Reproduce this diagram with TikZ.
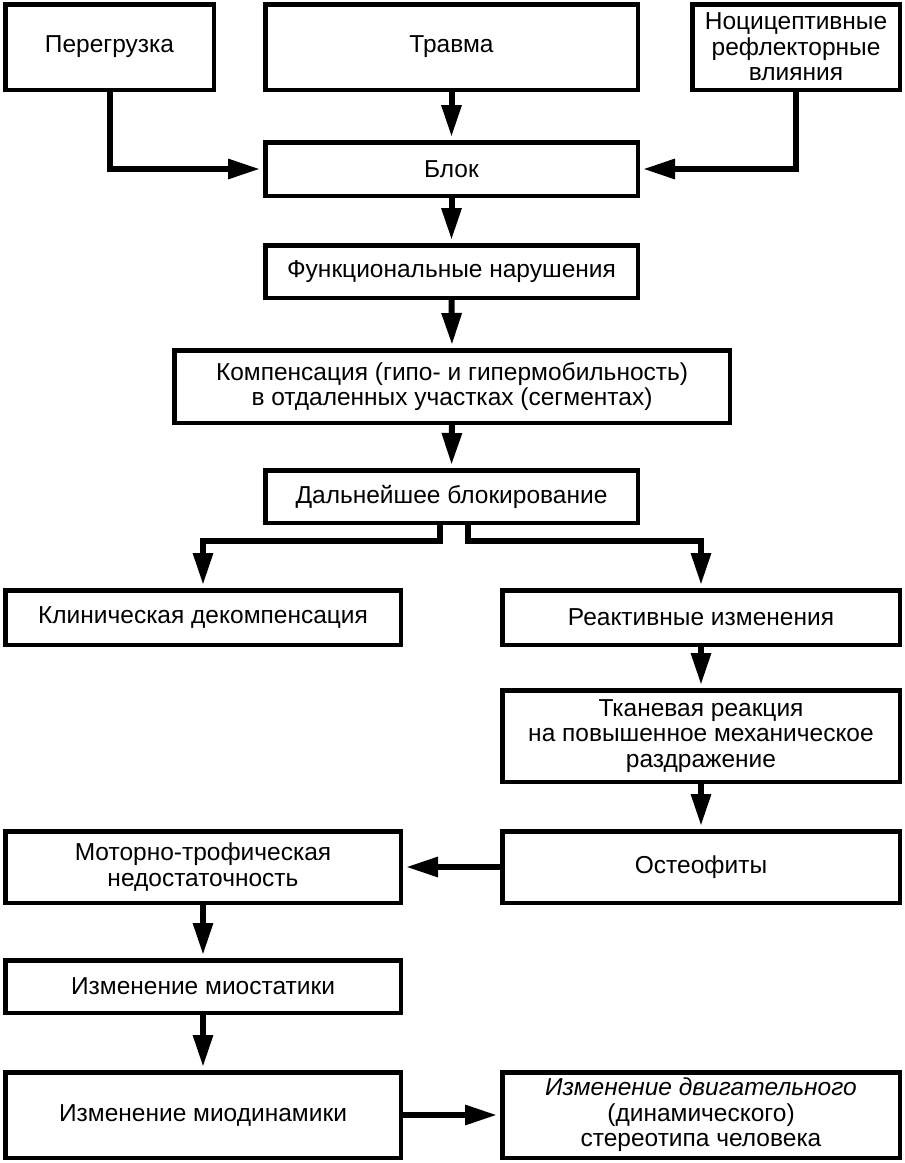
\documentclass[tikz,border=0pt]{standalone}
\usepackage{fontspec}
\setmainfont{Liberation Sans}
\usetikzlibrary{arrows.meta,calc}
\begin{document}
\begin{tikzpicture}[x=1pt,y=-1pt,
  box/.style={draw=black, line width=4.5pt, inner sep=0pt, align=center,
    font=\fontsize{24.5}{25.5}\selectfont},
  arr/.style={line width=6pt, -{Triangle[length=32pt,width=19pt]}, shorten >=3pt}]
\useasboundingbox (0,0) rectangle (905,1163);
% boxes
\node[box, minimum width=208.5pt, minimum height=85.5pt] (A) at (109.5,47) {Перегрузка};
\node[box, minimum width=372.5pt, minimum height=85.5pt] (B) at (451.5,47) {Травма};
\node[box, minimum width=207.5pt, minimum height=85.5pt] (C) at (796,47) {Ноцицептивные\\рефлекторные\\влияния};
\node[box, minimum width=372.5pt, minimum height=53.5pt] (D) at (451.5,169) {Блок};
\node[box, minimum width=372.5pt, minimum height=52.5pt] (E) at (451.5,271.5) {Функциональные нарушения};
\node[box, minimum width=555.5pt, minimum height=72.5pt] (F) at (452,386.5) {Компенсация (гипо- и гипермобильность)\\в отдаленных участках (сегментах)};
\node[box, minimum width=372.5pt, minimum height=52.5pt] (G) at (451.5,496.5) {Дальнейшее блокирование};
\node[box, minimum width=395.5pt, minimum height=54.5pt] (H) at (203,617.5) {Клиническая декомпенсация};
\node[box, minimum width=397.5pt, minimum height=54.5pt] (I) at (701,617.5) {Реактивные изменения};
\node[box, minimum width=397.5pt, minimum height=91.5pt] (J) at (701,736) {Тканевая реакция\\на повышенное механическое\\раздражение};
\node[box, minimum width=397.5pt, minimum height=71.5pt] (K) at (701,867) {Остеофиты};
\node[box, minimum width=395.5pt, minimum height=71.5pt] (L) at (203,867) {Моторно-трофическая\\недостаточность};
\node[box, minimum width=395.5pt, minimum height=52.5pt] (M) at (203,986.5) {Изменение миостатики};
\node[box, minimum width=395.5pt, minimum height=85.5pt] (N) at (203,1115) {Изменение миодинамики};
\node[box, minimum width=397.5pt, minimum height=85.5pt] (O) at (701,1115) {\textit{Изменение двигательного}\\(динамического)\\стереотипа человека};
% connectors
\draw[arr] (B.south) -- (D.north);
\draw[arr] (A.south) |- (D.west);
\draw[arr] (C.south) |- (D.east);
\draw[arr] (D.south) -- (E.north);
\draw[arr] (E.south) -- (F.north);
\draw[arr] (F.south) -- (G.north);
\draw[arr] ($(G.south)+(-12,0)$) -- ++(0,16) -| (H.north);
\draw[arr] ($(G.south)+(16,0)$) -- ++(0,16) -| (I.north);
\draw[arr] (I.south) -- (J.north);
\draw[arr] (J.south) -- (K.north);
\draw[arr] (K.west) -- (L.east);
\draw[arr] (L.south) -- (M.north);
\draw[arr] (M.south) -- (N.north);
\draw[arr] (N.east) -- (O.west);
\end{tikzpicture}
\end{document}
